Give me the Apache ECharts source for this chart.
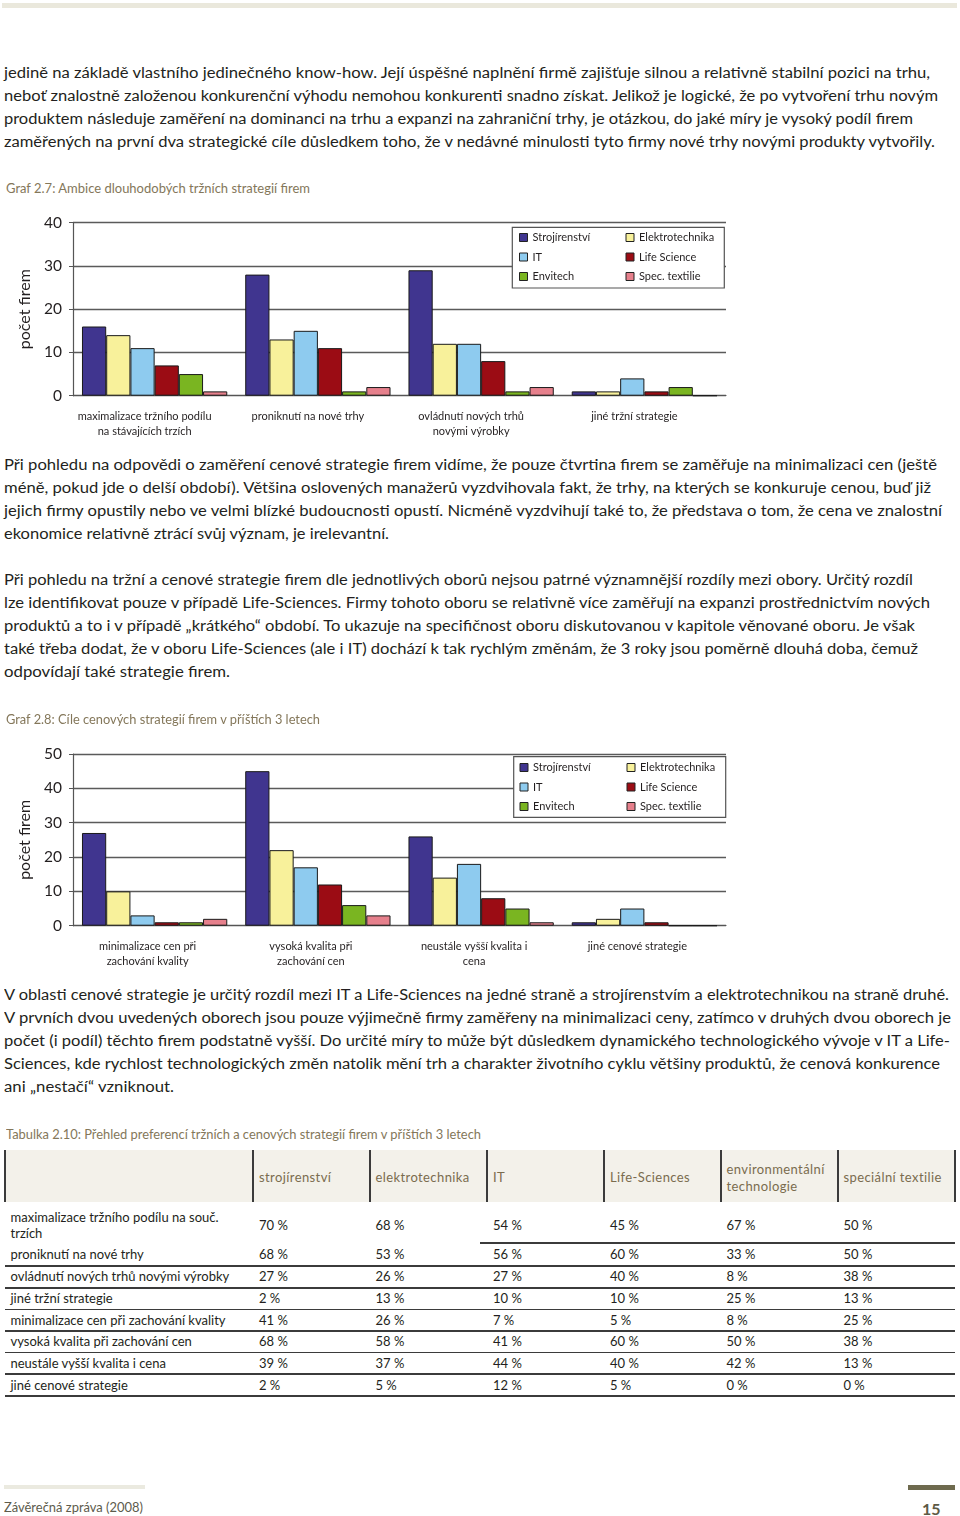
<!DOCTYPE html>
<html><head><meta charset="utf-8">
<script src="https://cdn.jsdelivr.net/npm/echarts@6/dist/echarts.min.js"></script>
<style>
html,body{margin:0;padding:0}
body{width:960px;height:1516px;position:relative;background:#fff;font-family:Lato,'Noto Sans',sans-serif;color:#231f20;overflow:hidden}
.abs{position:absolute;white-space:nowrap}
.bar{position:absolute}
</style></head><body>
<div class="bar" style="left:2px;top:3px;width:955px;height:5px;background:#eae8dc"></div>
<div id="c1" style="position:absolute;left:0;top:200px;width:960px;height:250px"></div>
<div id="c2" style="position:absolute;left:0;top:730px;width:960px;height:250px"></div>
<div class="bar" style="left:4px;top:1485px;width:141px;height:4px;background:#ebeae0"></div>
<div class="bar" style="left:908px;top:1485px;width:47px;height:5px;background:#6e6a4e"></div>
<script>
// ---------- data ----------
const seriesNames = ['Strojírenství','Elektrotechnika','IT','Life Science','Envitech','Spec. textilie'];
const seriesColors = ['#40358f','#f8f19b','#8ecbef','#9b0c14','#7ab521','#e6808c'];

const categories1 = ['maximalizace tržního podílu\nna stávajících trzích','proniknutí na nové trhy','ovládnutí nových trhů\nnovými výrobky','jiné tržní strategie'];
const strojirenstvi1 = [16, 28, 29, 1];
const elektrotechnika1 = [14, 13, 12, 1];
const it1 = [11, 15, 12, 4];
const lifeScience1 = [7, 11, 8, 1];
const envitech1 = [5, 1, 1, 2];
const textilie1 = [1, 2, 2, 0];

const categories2 = ['minimalizace cen při\nzachování kvality','vysoká kvalita při\nzachování cen','neustále vyšší kvalita i\ncena','jiné cenové strategie'];
const strojirenstvi2 = [27, 45, 26, 1];
const elektrotechnika2 = [10, 22, 14, 2];
const it2 = [3, 17, 18, 5];
const lifeScience2 = [1, 12, 8, 1];
const envitech2 = [1, 6, 5, 0];
const textilie2 = [2, 3, 1, 0];

const tableHeaders = ['strojírenství','elektrotechnika','IT','Life-Sciences','environmentální\ntechnologie','speciální textilie'];
const tableRowLabels = ['maximalizace tržního podílu na souč.\ntrzích','proniknutí na nové trhy','ovládnutí nových trhů novými výrobky','jiné tržní strategie','minimalizace cen při zachování kvality','vysoká kvalita při zachování cen','neustále vyšší kvalita i cena','jiné cenové strategie'];
const tabStrojirenstvi = [70, 68, 27, 2, 41, 68, 39, 2];
const tabElektrotechnika = [68, 53, 26, 13, 26, 58, 37, 5];
const tabIT = [54, 56, 27, 10, 7, 41, 44, 12];
const tabLifeSciences = [45, 60, 40, 10, 5, 60, 40, 5];
const tabEnvironment = [67, 33, 8, 25, 8, 50, 42, 0];
const tabTextilie = [50, 50, 38, 13, 25, 38, 13, 0];

// ---------- text ----------
const para1 = [
 ['jedině na základě vlastního jedinečného know-how. Její úspěšné naplnění firmě zajišťuje silnou a relativně stabilní pozici na trhu,', 72.5, 930],
 ['neboť znalostně založenou konkurenční výhodu nemohou konkurenti snadno získat. Jelikož je logické, že po vytvoření trhu novým', 95.5, 938],
 ['produktem následuje zaměření na dominanci na trhu a expanzi na zahraniční trhy, je otázkou, do jaké míry je vysoký podíl firem', 118.5, 913],
 ['zaměřených na první dva strategické cíle důsledkem toho, že v nedávné minulosti tyto firmy nové trhy novými produkty vytvořily.', 141.5, 935]
];
const para2 = [
 ['Při pohledu na odpovědi o zaměření cenové strategie firem vidíme, že pouze čtvrtina firem se zaměřuje na minimalizaci cen (ještě', 464, 937],
 ['méně, pokud jde o delší období). Většina oslovených manažerů vyzdvihovala fakt, že trhy, na kterých se konkuruje cenou, buď již', 487, 931],
 ['jejich firmy opustily nebo ve velmi blízké budoucnosti opustí. Nicméně vyzdvihují také to, že představa o tom, že cena ve znalostní', 510, 942],
 ['ekonomice relativně ztrácí svůj význam, je irelevantní.', 533, 389]
];
const para3 = [
 ['Při pohledu na tržní a cenové strategie firem dle jednotlivých oborů nejsou patrné významnější rozdíly mezi obory. Určitý rozdíl', 579.3, 913],
 ['lze identifikovat pouze v případě Life-Sciences. Firmy tohoto oboru se relativně více zaměřují na expanzi prostřednictvím nových', 602.3, 930],
 ['produktů a to i v případě „krátkého“ období. To ukazuje na specifičnost oboru diskutovanou v kapitole věnované oboru. Je však', 625.3, 915],
 ['také třeba dodat, že v oboru Life-Sciences (ale i IT) dochází k tak rychlým změnám, že 3 roky jsou poměrně dlouhá doba, čemuž', 648.3, 918],
 ['odpovídají také strategie firem.', 671.3, 230]
];
const para4 = [
 ['V oblasti cenové strategie je určitý rozdíl mezi IT a Life-Sciences na jedné straně a strojírenstvím a elektrotechnikou na straně druhé.', 994, 949],
 ['V prvních dvou uvedených oborech jsou pouze výjimečně firmy zaměřeny na minimalizaci ceny, zatímco v druhých dvou oborech je', 1017, 951],
 ['počet (i podíl) těchto firem podstatně vyšší. Do určité míry to může být důsledkem dynamického technologického vývoje v IT a Life-', 1040, 950],
 ['Sciences, kde rychlost technologických změn natolik mění trh a charakter životního cyklu většiny produktů, že cenová konkurence', 1063, 940],
 ['ani „nestačí“ vzniknout.', 1086, 174]
];

function addText(text, x, yc, opts) {
  const d = document.createElement('div');
  d.className = 'abs';
  d.textContent = text;
  const fs = opts.fs || 15.5, lh = opts.lh || 23;
  d.style.left = x + 'px';
  d.style.top = (yc - lh / 2) + 'px';
  d.style.fontSize = fs + 'px';
  d.style.lineHeight = lh + 'px';
  if (opts.color) d.style.color = opts.color;
  if (opts.weight) d.style.fontWeight = opts.weight;
  if (opts.ls) d.style.letterSpacing = opts.ls + 'px';
  document.body.appendChild(d);
  if (opts.endX) {
    const w = d.getBoundingClientRect().width;
    d.style.transformOrigin = '0 50%';
    d.style.transform = 'scaleX(' + ((opts.endX - x) / w) + ')';
  }
  return d;
}
[para1, para2, para3, para4].forEach(p => p.forEach(l => addText(l[0], 4, l[1], {endX: l[2]})));

const capColor = '#84775a';
addText('Graf 2.7: Ambice dlouhodobých tržních strategií firem', 6, 188.3, {fs: 12.5, color: capColor, endX: 310});
addText('Graf 2.8: Cíle cenových strategií firem v příštích 3 letech', 6, 719, {fs: 12.5, color: capColor, endX: 320});
addText('Tabulka 2.10: Přehled preferencí tržních a cenových strategií firem v příštích 3 letech', 6, 1134, {fs: 12.5, color: capColor, endX: 481});
addText('Závěrečná zpráva (2008)', 4, 1507, {fs: 12.5, color: '#5d5b4c', endX: 143});
addText('15', 922, 1508, {fs: 16, color: '#5d5a45', weight: 'bold'});

// ---------- table ----------
const colX = [259, 375.5, 493, 610, 726.5, 843.5];
const sepX = [4.7, 253.3, 370, 487.3, 604, 720.7, 837.7, 955];
const hdr = document.createElement('div');
hdr.className = 'bar';
hdr.style.cssText = 'left:5px;top:1150px;width:950px;height:52px;background:#f3f1ea';
document.body.appendChild(hdr);
sepX.forEach(x => {
  const s = document.createElement('div');
  s.className = 'bar';
  s.style.cssText = 'left:' + (x - 1) + 'px;top:1150px;width:2px;height:52px;background:#3b3b3b';
  document.body.appendChild(s);
});
tableHeaders.forEach((h, i) => {
  const lines = h.split('\n');
  if (lines.length === 1) addText(h, colX[i], 1177, {fs: 13, lh: 17, color: '#7a6c4e', ls: 0.4});
  else lines.forEach((ln, k) => addText(ln, colX[i], 1169 + k * 17, {fs: 13, lh: 17, color: '#7a6c4e', ls: 0.4}));
});
const rowCenters = [1225, 1254.7, 1276.7, 1298.5, 1320, 1341.7, 1363.5, 1385.5];
const rowLines = [1266, 1287.7, 1309.3, 1331, 1352.3, 1374, 1396];
const tabCols = [tabStrojirenstvi, tabElektrotechnika, tabIT, tabLifeSciences, tabEnvironment, tabTextilie];
(function(){
  const l = document.createElement('div'); l.className = 'bar';
  l.style.cssText = 'left:480px;top:1242px;width:475px;height:1.5px;background:#3b3b3b';
  document.body.appendChild(l);
})();
rowLines.forEach(y => {
  const l = document.createElement('div'); l.className = 'bar';
  l.style.cssText = 'left:5px;top:' + (y - 0.7) + 'px;width:950px;height:1.5px;background:#3b3b3b';
  document.body.appendChild(l);
});
tableRowLabels.forEach((lab, r) => {
  const lines = lab.split('\n');
  if (lines.length === 1) addText(lab, 10.5, rowCenters[r], {fs: 13, lh: 17});
  else lines.forEach((ln, k) => addText(ln, 10.5, rowCenters[r] - 8 + k * 16, {fs: 13, lh: 16}));
  tabCols.forEach((col, c) => addText(col[r] + ' %', colX[c], rowCenters[r], {fs: 13, lh: 17}));
});

// ---------- charts ----------
function makeChart(el, cats, data, yMax, gridTop, gridH, labelPad, legendTop, legendX1, legendX2, box) {
  const chart = echarts.init(el, null, {renderer: 'canvas'});
  const axisCol = '#555';
  const legendCommon = {
    orient: 'vertical', top: legendTop, itemWidth: 8, itemHeight: 8, itemGap: 8.5,
    textStyle: {fontSize: 11, color: '#231f20', fontFamily: 'Lato'},
    itemStyle: {borderColor: '#222', borderWidth: 1}, icon: 'rect', selectedMode: false, padding: 0
  };
  chart.setOption({
    animation: false,
    textStyle: {fontFamily: 'Lato'},
    grid: {left: 73, top: gridTop, width: 653, height: gridH},
    xAxis: {
      type: 'category', data: cats,
      axisLine: {lineStyle: {color: axisCol, width: 1.2}},
      axisTick: {length: 4, lineStyle: {color: axisCol}},
      axisLabel: {fontSize: 11, color: '#231f20', lineHeight: 15.5, margin: 13, interval: 0, padding: [0, labelPad, 0, 0]}
    },
    yAxis: {
      type: 'value', min: 0, max: yMax, interval: 10,
      name: 'počet firem', nameLocation: 'middle', nameGap: 30,
      nameTextStyle: {fontSize: 16, color: '#231f20'},
      axisLine: {show: true, lineStyle: {color: axisCol, width: 1.2}},
      axisTick: {show: true, length: 4, lineStyle: {color: axisCol}},
      axisLabel: {fontSize: 15.5, color: '#231f20', margin: 11},
      splitLine: {lineStyle: {color: '#5a5a5a', width: 1.3}}
    },
    legend: [
      Object.assign({}, legendCommon, {left: legendX1, data: [seriesNames[0], seriesNames[2], seriesNames[4]]}),
      Object.assign({}, legendCommon, {left: legendX2, data: [seriesNames[1], seriesNames[3], seriesNames[5]]})
    ],
    graphic: [{
      type: 'rect', z: 3,
      shape: {x: box[0], y: box[1], width: box[2], height: box[3]},
      style: {fill: '#fff', stroke: '#555', lineWidth: 1.2}
    }],
    series: data.map((d, i) => ({
      type: 'bar', name: seriesNames[i], data: d,
      barGap: '0%', barCategoryGap: '11%',
      itemStyle: {color: seriesColors[i], borderColor: '#1a1a1a', borderWidth: 1}
    }))
  });
  return chart;
}
makeChart(document.getElementById('c1'), categories1,
  [strojirenstvi1, elektrotechnika1, it1, lifeScience1, envitech1, textilie1],
  40, 22.7, 173, 20, 32, 519, 625.5, [512.3, 27.3, 212, 60.7]);
makeChart(document.getElementById('c2'), categories2,
  [strojirenstvi2, elektrotechnika2, it2, lifeScience2, envitech2, textilie2],
  50, 24, 171.7, 14, 32, 519.5, 626.5, [513.7, 26.7, 212, 60.6]);
</script>
</body></html>
